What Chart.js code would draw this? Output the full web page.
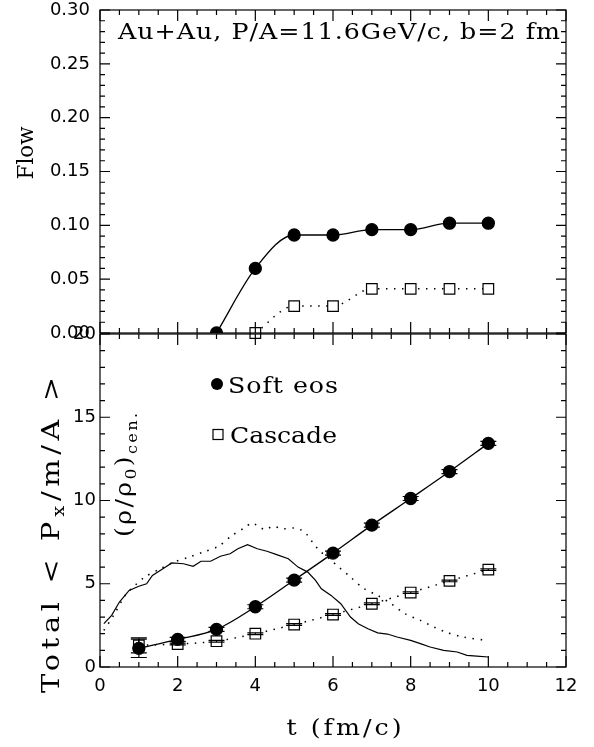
<!DOCTYPE html>
<html>
<head>
<meta charset="utf-8">
<script src="https://cdn.jsdelivr.net/npm/chart.js@4/dist/chart.umd.min.js"></script>
<style>
  body { margin: 0; background: #fff; }
  #wrap { position: relative; width: 594px; height: 747px; }
  #wrap canvas { position: absolute; left: 0; top: 0; }
</style>
</head>
<body>
<div id="wrap">
  <canvas id="flowChart" width="594" height="747"></canvas>
  <canvas id="pxChart" width="594" height="747"></canvas>
</div>
<script>
// tick labels
const xTicks = [0, 2, 4, 6, 8, 10, 12];
const flowTicks = [0, 0.05, 0.10, 0.15, 0.20, 0.25, 0.30];
const pxTicks = [0, 5, 10, 15, 20];

// top panel: flow vs time
const flowSoftT = [3, 4, 5, 6, 7, 8, 9, 10];
const flowSoft = [0.000, 0.060, 0.091, 0.091, 0.096, 0.096, 0.102, 0.102];
const flowCascT = [4, 5, 6, 7, 8, 9, 10];
const flowCasc = [0.000, 0.025, 0.025, 0.041, 0.041, 0.041, 0.041];

// bottom panel: total <Px/m/A>
const pxT = [1, 2, 3, 4, 5, 6, 7, 8, 9, 10];
const pxSoft = [1.12, 1.66, 2.26, 3.62, 5.22, 6.84, 8.52, 10.12, 11.74, 13.43];
const pxSoftErr = [0.55, 0.12, 0.12, 0.12, 0.12, 0.12, 0.12, 0.12, 0.12, 0.12];
const pxCasc = [1.3, 1.38, 1.55, 2.0, 2.55, 3.15, 3.8, 4.47, 5.17, 5.85];
const pxCascErr = [0.45, 0.05, 0.05, 0.05, 0.05, 0.05, 0.05, 0.05, 0.05, 0.05];

// central density (rho/rho0)
const rhoSoftT = [0.1, 0.3, 0.5, 0.75, 1.0, 1.2, 1.35, 1.65, 1.85, 2.15, 2.4, 2.6, 2.85, 3.1, 3.35, 3.55, 3.8, 4.05, 4.3, 4.55, 4.85, 5.1, 5.35, 5.55, 5.7, 5.95, 6.2, 6.45, 6.65, 6.9, 7.15, 7.4, 7.65, 8.0, 8.25, 8.5, 8.85, 9.2, 9.45, 9.7, 10.0];
const rhoSoft = [2.6, 3.1, 3.9, 4.6, 4.85, 5.0, 5.5, 5.95, 6.25, 6.2, 6.05, 6.35, 6.35, 6.65, 6.8, 7.1, 7.35, 7.1, 6.95, 6.75, 6.5, 6.0, 5.7, 5.2, 4.7, 4.3, 3.8, 3.0, 2.6, 2.3, 2.05, 1.98, 1.8, 1.6, 1.4, 1.2, 1.0, 0.9, 0.7, 0.65, 0.6];
const rhoCascT = [0.1, 0.35, 0.65, 0.9, 1.15, 1.55, 1.9, 2.3, 2.65, 3.05, 3.4, 3.75, 3.9, 4.05, 4.25, 4.45, 4.7, 5.0, 5.2, 5.35, 5.5, 5.65, 5.9, 6.15, 6.45, 6.8, 7.15, 7.5, 7.85, 8.25, 8.6, 8.9, 9.35, 9.95];
const rhoCasc = [2.2, 3.1, 4.3, 4.9, 5.4, 5.9, 6.3, 6.6, 6.9, 7.25, 7.9, 8.4, 8.65, 8.5, 8.25, 8.45, 8.3, 8.35, 8.2, 7.9, 7.4, 7.0, 6.5, 6.0, 5.4, 4.7, 4.3, 3.8, 3.2, 2.8, 2.4, 2.1, 1.8, 1.6];

const SERIF = '"DejaVu Serif", "Liberation Serif", serif';
const SANS = '"DejaVu Sans", "Liberation Sans", sans-serif';

function pts(xs, ys) {
  return xs.map((x, i) => ({ x: x, y: ys[i] }));
}

function isMajor(v, majors) {
  return majors.some(m => Math.abs(m - v) < 1e-6);
}

// text made of runs (for subscripts), fitted to a target width:
// a little horizontal stretch, the rest as letter spacing
function drawRuns(ctx, runs, x, y, target, rotated) {
  ctx.save();
  ctx.translate(x, y);
  if (rotated) ctx.rotate(-Math.PI / 2);
  let w = 0, n = 0;
  runs.forEach(r => {
    ctx.font = r.size + 'px ' + SERIF;
    r.w = ctx.measureText(r.t).width;
    w += r.w;
    n += r.t.length;
  });
  const hasSpacing = 'letterSpacing' in ctx;
  const k = hasSpacing ? Math.min(1.15, target / w) : target / w;
  ctx.scale(k, 1);
  const gap = hasSpacing ? Math.max(0, (target / k - w) / (n - 1)) : 0;
  if (hasSpacing) ctx.letterSpacing = gap + 'px';
  const total = w + gap * (n - 1);
  ctx.fillStyle = '#000';
  ctx.textAlign = 'left';
  ctx.textBaseline = 'alphabetic';
  let cx = -total / 2;
  runs.forEach(r => {
    ctx.font = r.size + 'px ' + SERIF;
    ctx.fillText(r.t, cx, r.dy || 0);
    cx += r.w + gap * r.t.length;
  });
  ctx.restore();
}

// frame with inward ticks on all four sides
const frameTicks = {
  id: 'frameTicks',
  afterDraw(chart, args, o) {
    const { ctx, chartArea: a, scales: { x, y } } = chart;
    ctx.save();
    ctx.strokeStyle = '#000';
    ctx.lineWidth = 1.2;
    ctx.strokeRect(a.left, a.top, a.right - a.left, a.bottom - a.top);
    ctx.beginPath();
    const nx = Math.round((x.max - x.min) / o.xMinor);
    for (let i = 0; i <= nx; i++) {
      const v = x.min + i * o.xMinor;
      const px = x.getPixelForValue(v);
      const len = isMajor(v, xTicks) ? 11 : 5;
      ctx.moveTo(px, a.bottom); ctx.lineTo(px, a.bottom - len);
      ctx.moveTo(px, a.top); ctx.lineTo(px, a.top + len);
    }
    const ny = Math.round((y.max - y.min) / o.yMinor);
    for (let i = 0; i <= ny; i++) {
      const v = y.min + i * o.yMinor;
      const py = y.getPixelForValue(v);
      const len = isMajor(v, o.yTicks) ? 10 : 5;
      ctx.moveTo(a.left, py); ctx.lineTo(a.left + len, py);
      ctx.moveTo(a.right, py); ctx.lineTo(a.right - len, py);
    }
    ctx.stroke();

    ctx.fillStyle = '#000';
    ctx.font = '18px ' + SANS;
    ctx.textAlign = 'right';
    ctx.textBaseline = 'middle';
    o.yTicks.forEach(v => ctx.fillText(o.fmt(v), o.labelRight, y.getPixelForValue(v)));
    if (o.xLabels) {
      ctx.textAlign = 'center';
      xTicks.forEach(v => ctx.fillText(String(v), x.getPixelForValue(v), a.bottom + 19));
    }
    ctx.restore();
  }
};

// vertical error bars with caps
const errorBars = {
  id: 'errorBars',
  afterDatasetsDraw(chart) {
    const { ctx, scales: { x, y } } = chart;
    ctx.save();
    ctx.strokeStyle = '#000';
    ctx.lineWidth = 1.2;
    chart.data.datasets.forEach(ds => {
      if (!ds.errors) return;
      ds.data.forEach((p, i) => {
        const e = ds.errors[i];
        const px = x.getPixelForValue(p.x);
        const y1 = y.getPixelForValue(p.y + e);
        const y2 = y.getPixelForValue(p.y - e);
        ctx.beginPath();
        ctx.moveTo(px, y1); ctx.lineTo(px, y2);
        ctx.moveTo(px - 8, y1); ctx.lineTo(px + 8, y1);
        ctx.moveTo(px - 8, y2); ctx.lineTo(px + 8, y2);
        ctx.stroke();
      });
    });
    ctx.restore();
  }
};

const solid = {
  borderColor: '#000',
  borderWidth: 1.3,
  cubicInterpolationMode: 'monotone',
  pointStyle: 'circle',
  pointRadius: 6,
  pointBackgroundColor: '#000',
  pointBorderColor: '#000'
};
const dotted = {
  borderColor: '#000',
  borderWidth: 1.5,
  borderDash: [1.5, 6.5],
  cubicInterpolationMode: 'monotone',
  pointStyle: 'rect',
  pointRadius: 7.5,
  pointBackgroundColor: '#fff',
  pointBorderColor: '#000',
  pointBorderWidth: 1.2,
  clip: false
};

const baseOptions = {
  responsive: false,
  animation: false,
  devicePixelRatio: 1,
  plugins: { legend: { display: false }, tooltip: { enabled: false } }
};

new Chart(document.getElementById('flowChart'), {
  type: 'line',
  data: {
    datasets: [
      Object.assign({ label: 'Soft eos', data: pts(flowSoftT, flowSoft) }, solid),
      Object.assign({ label: 'Cascade', data: pts(flowCascT, flowCasc) }, dotted)
    ]
  },
  options: Object.assign({}, baseOptions, {
    layout: { padding: { left: 100, right: 28, top: 10, bottom: 414 } },
    scales: {
      x: { type: 'linear', min: 0, max: 12, display: false },
      y: { type: 'linear', min: 0, max: 0.30, display: false }
    },
    plugins: Object.assign({}, baseOptions.plugins, {
      frameTicks: { xMinor: 0.5, yMinor: 0.01, yTicks: flowTicks, fmt: v => v.toFixed(2), labelRight: 90, xLabels: false }
    })
  }),
  plugins: [frameTicks, {
    id: 'flowText',
    afterDraw(chart) {
      const ctx = chart.ctx;
      drawRuns(ctx, [{ t: 'Au+Au, P/A=11.6GeV/c, b=2 fm', size: 22 }], 339, 39, 442, false);
      drawRuns(ctx, [{ t: 'Flow', size: 23 }], 33, 153, 53, true);
    }
  }]
});

new Chart(document.getElementById('pxChart'), {
  type: 'line',
  data: {
    datasets: [
      Object.assign({ label: 'Soft eos', data: pts(pxT, pxSoft), errors: pxSoftErr }, solid),
      Object.assign({ label: 'Cascade', data: pts(pxT, pxCasc), errors: pxCascErr }, dotted),
      { label: 'rho soft', data: pts(rhoSoftT, rhoSoft), borderColor: '#000', borderWidth: 1.2, pointRadius: 0, tension: 0 },
      { label: 'rho cascade', data: pts(rhoCascT, rhoCasc), borderColor: '#000', borderWidth: 1.6, borderDash: [1.5, 6.5], pointRadius: 0, tension: 0.3 }
    ]
  },
  options: Object.assign({}, baseOptions, {
    layout: { padding: { left: 100, right: 28, top: 334, bottom: 80 } },
    scales: {
      x: { type: 'linear', min: 0, max: 12, display: false },
      y: { type: 'linear', min: 0, max: 20, display: false }
    },
    plugins: Object.assign({}, baseOptions.plugins, {
      frameTicks: { xMinor: 0.5, yMinor: 1, yTicks: pxTicks, fmt: v => String(v), labelRight: 96, xLabels: true }
    })
  }),
  plugins: [frameTicks, errorBars, {
    id: 'pxText',
    afterDraw(chart) {
      const ctx = chart.ctx;
      // legend
      ctx.save();
      ctx.fillStyle = '#000';
      ctx.beginPath();
      ctx.arc(217, 384, 6, 0, Math.PI * 2);
      ctx.fill();
      ctx.strokeStyle = '#000';
      ctx.lineWidth = 1.2;
      ctx.strokeRect(213, 429.5, 10, 10);
      ctx.restore();
      drawRuns(ctx, [{ t: 'Soft eos', size: 22 }], 283, 393, 110, false);
      drawRuns(ctx, [{ t: 'Cascade', size: 22 }], 283.5, 443, 107, false);
      // axis titles
      drawRuns(ctx, [{ t: 't (fm/c)', size: 22 }], 344, 735, 115, false);
      drawRuns(ctx, [
        { t: 'Total < P', size: 25 },
        { t: 'x', size: 17, dy: 5 },
        { t: '/m/A >', size: 25 }
      ], 59, 535, 316, true);
      drawRuns(ctx, [
        { t: '(\u03c1/\u03c1', size: 22 },
        { t: '0', size: 15, dy: 5 },
        { t: ')', size: 22 },
        { t: 'cen.', size: 14, dy: 6 }
      ], 131, 475, 124, true);
    }
  }]
});
</script>
</body>
</html>
